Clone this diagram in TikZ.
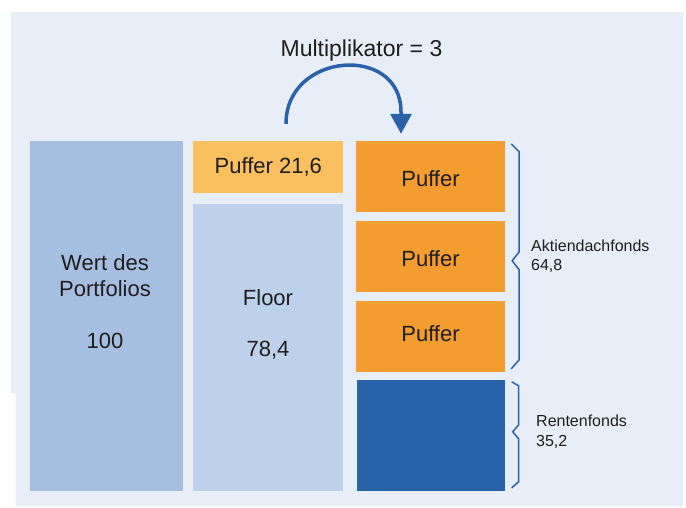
\documentclass[tikz,border=0pt]{standalone}
\usepackage{fontspec}
\setmainfont{Liberation Sans}
\usepackage{xcolor}
\usetikzlibrary{arrows.meta}
\usetikzlibrary{calc}

\begin{document}
\begin{tikzpicture}[x=1pt, y=-1pt,
		fondsbox/.style={draw=none, inner sep=0pt, minimum width={150pt}},
		boxtext/.style={anchor=base, inner sep=0pt, color={ALMOST_BLACK!100}, font=\fontsize{22}{26}\selectfont},
		sidetext/.style={anchor=base west, inner sep=0pt, color={ALMOST_BLACK!100}, font=\fontsize{16}{19}\selectfont},
		bracepath/.style={line width={1.5pt}, color={ARROW_BLUE!100}, line join=miter},
		arrowline/.style={line width={3.5pt}, color={ARROW_BLUE!100}, -{Triangle[width=21pt,length=20pt]}}]
				\definecolor{WHITE}{RGB}{255, 255, 255}
				\definecolor{PANEL}{RGB}{231, 238, 247}
				\definecolor{ALMOST_BLACK}{RGB}{30, 30, 30}
				\definecolor{GRAY_BLUE}{RGB}{166, 190, 223}
				\definecolor{LIGHT_BLUE}{RGB}{189, 210, 234}
				\definecolor{LIGHT_ORANGE}{RGB}{250, 191, 95}
				\definecolor{ORANGE}{RGB}{243, 156, 47}
				\definecolor{DARK_BLUE}{RGB}{40, 98, 168}
				\definecolor{ARROW_BLUE}{RGB}{42, 98, 170}
				\useasboundingbox (0, 0) rectangle (686, 507);
				\fill[color={WHITE!100}] (0, 0) rectangle (686, 507);
				\fill[color={PANEL!100}] (11, 12) -- (683, 12) -- (683, 506) -- (15.5, 506) 
					-- (15.5, 393) -- (11, 393) -- cycle;
				
				% Portfolio und Floor
				\node[fondsbox, minimum width={153pt}, minimum height={350pt}, fill={GRAY_BLUE!100}] (wert) at (106.5, 316) {};
				\node[fondsbox, minimum height={52pt}, fill={LIGHT_ORANGE!100}] (puffer) at (268, 167) {};
				\node[fondsbox, minimum height={287pt}, fill={LIGHT_BLUE!100}] (floor) at (268, 347.5) {};
				
				% Aufteilung
				\node[fondsbox, minimum width={149pt}, minimum height={71pt}, fill={ORANGE!100}] (pufA) at (430.5, 176.5) {};
				\node[fondsbox, minimum width={149pt}, minimum height={71pt}, fill={ORANGE!100}] (pufB) at (430.5, 256.5) {};
				\node[fondsbox, minimum width={149pt}, minimum height={71pt}, fill={ORANGE!100}] (pufC) at (430.5, 336.3) {};
				\node[fondsbox, minimum width={148pt}, minimum height={111pt}, fill={DARK_BLUE!100}] (renten) at (430.5, 435.5) {};
				
				\node[boxtext] (wertA) at (105, 270.7) {Wert des};
				\node[boxtext] (wertB) at (105, 296.7) {Portfolios};
				\node[boxtext] (wertnum) at (105, 348.3) {100};
				\node[boxtext] (floortext) at (268, 305) {Floor};
				\node[boxtext] (floornum) at (268, 356) {78,4};
				\node[boxtext] (puffertext) at (268.3, 173.3) {Puffer 21,6};
				\node[boxtext] (pufAtext) at (430.5, 186) {Puffer};
				\node[boxtext] (pufBtext) at (430.5, 266.7) {Puffer};
				\node[boxtext] (pufCtext) at (430.5, 341.7) {Puffer};
				
				\node[boxtext, font=\fontsize{23}{27}\selectfont] (multi) at (361.5, 56.7) {Multiplikator = 3};
				
				% Pfeil
				\coordinate (arrowstart) at ($(puffer.north)+(18,-17)$);
				\coordinate (arrowend) at ($(pufA.north)+(-29.5,-7)$);
				\draw[arrowline] (arrowstart) .. controls +(0,-72) and +(0,-68) .. 
					($(arrowend)+(0,-22)$) -- (arrowend);
				
				% Klammern
				\draw[bracepath] ($(pufA.north east)+(6,3)$) -- ++(8,8) -- ++(0,100) -- ++(-7,9) 
					-- ++(7,9) -- ++(0,90) -- ++(-8,9);
				\draw[bracepath] ($(renten.north east)+(7,2)$) -- ++(7,4) -- ++(0,39) -- ++(-6,7) 
					-- ++(6,7) -- ++(0,43) -- ++(-7,6);
				
				\node[sidetext] (aktien) at (531, 251.7) {Aktiendachfonds};
				\node[sidetext] (aktienwert) at (531, 270) {64,8};
				\node[sidetext] (rentenfonds) at (536, 426.7) {Rentenfonds};
				\node[sidetext] (rentenwert) at (536, 446) {35,2};
				
			\end{tikzpicture}
\end{document}
